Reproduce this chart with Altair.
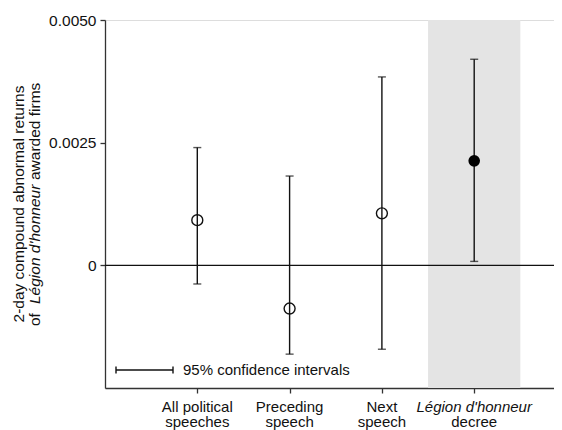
import altair as alt
import pandas as pd

# ---- data ----
label_line1 = ["All political", "Preceding", "Next", "Légion d'honneur"]
label_line2 = ["speeches", "speech", "speech", "decree"]
positions = [1, 2, 3, 4]
estimates = [0.00092, -0.00088, 0.00106, 0.00213]
ci_low = [-0.00038, -0.00181, -0.00171, 0.00008]
ci_high = [0.00240, 0.00182, 0.00384, 0.00420]
highlighted = [False, False, False, True]
y_ticks = [0.0, 0.0025, 0.0050]
y_domain = [-0.0025, 0.0050]

df = pd.DataFrame({
    "pos": positions, "l1": label_line1, "l2": label_line2,
    "est": estimates, "lo": ci_low, "hi": ci_high, "hl": highlighted,
})
shade = pd.DataFrame({
    "x0": [p - 0.5 for p, h in zip(positions, highlighted) if h],
    "x1": [p + 0.5 for p, h in zip(positions, highlighted) if h],
    "y0": [y_domain[0]], "y1": [y_domain[1]],
})
one = pd.DataFrame({"k": [0]})

W, H = 449, 368
FONT = "Liberation Sans"
INK = "#111111"

xs = alt.Scale(domain=[0, W / 92.3], nice=False, zero=False)
ys = alt.Scale(domain=y_domain, nice=False, zero=False)

base = alt.Chart(df)
ann = alt.Chart(one)

xaxis = alt.Axis(values=positions, labels=False, title=None, grid=False,
                 tickSize=5, domainColor="#333", tickColor="#333",
                 domainWidth=1.3, tickWidth=1.3)
yaxis = alt.Axis(values=y_ticks, title=None, grid=False, tickSize=5,
                 labelExpr="datum.value == 0 ? '0' : format(datum.value, '.4f')",
                 labelFontSize=15.5, labelFont=FONT, labelColor=INK,
                 labelPadding=4, domainColor="#333", tickColor="#333",
                 domainWidth=1.3, tickWidth=1.3)

rect = alt.Chart(shade).mark_rect(color="#e4e4e4").encode(
    x=alt.X("x0:Q", scale=xs, axis=xaxis), x2="x1:Q",
    y=alt.Y("y0:Q", scale=ys, axis=yaxis), y2="y1:Q",
)

zero = ann.mark_rule(color=INK, strokeWidth=1.3).encode(
    y=alt.datum(0, scale=ys)
)

bars = base.mark_rule(color=INK, strokeWidth=1.4).encode(
    x=alt.X("pos:Q", scale=xs), y=alt.Y("lo:Q", scale=ys), y2="hi:Q"
)
cap_lo = base.mark_tick(color=INK, orient="horizontal", size=8, thickness=1.4).encode(
    x=alt.X("pos:Q", scale=xs), y=alt.Y("lo:Q", scale=ys)
)
cap_hi = base.mark_tick(color=INK, orient="horizontal", size=8, thickness=1.4).encode(
    x=alt.X("pos:Q", scale=xs), y=alt.Y("hi:Q", scale=ys)
)

open_pts = base.transform_filter("!datum.hl").mark_point(
    shape="circle", filled=False, stroke=INK, strokeWidth=1.4, size=120, opacity=1
).encode(x=alt.X("pos:Q", scale=xs), y=alt.Y("est:Q", scale=ys))

filled_pts = base.transform_filter("datum.hl").mark_point(
    shape="circle", filled=True, color="black", size=135, opacity=1
).encode(x=alt.X("pos:Q", scale=xs), y=alt.Y("est:Q", scale=ys))

LFS = 15
lab1 = base.transform_filter("!datum.hl").mark_text(
    font=FONT, fontSize=LFS, color=INK, baseline="alphabetic", align="center"
).encode(x=alt.X("pos:Q", scale=xs), y=alt.value(391.5), text="l1:N")
lab1i = base.transform_filter("datum.hl").mark_text(
    font=FONT, fontSize=LFS, color=INK, baseline="alphabetic", align="center",
    fontStyle="italic"
).encode(x=alt.X("pos:Q", scale=xs), y=alt.value(391.5), text="l1:N")
lab2 = base.mark_text(
    font=FONT, fontSize=LFS, color=INK, baseline="alphabetic", align="center"
).encode(x=alt.X("pos:Q", scale=xs), y=alt.value(406.5), text="l2:N")

# legend-like annotation for confidence intervals
leg_bar = ann.mark_rule(color=INK, strokeWidth=1.4).encode(
    x=alt.value(11), x2=alt.value(68), y=alt.value(350)
)
leg_c1 = ann.mark_rule(color=INK, strokeWidth=1.4).encode(
    x=alt.value(11), y=alt.value(346.5), y2=alt.value(353.5)
)
leg_c2 = ann.mark_rule(color=INK, strokeWidth=1.4).encode(
    x=alt.value(68), y=alt.value(346.5), y2=alt.value(353.5)
)
leg_txt = ann.mark_text(
    font=FONT, fontSize=15, color=INK, align="left", baseline="middle"
).encode(x=alt.value(78), y=alt.value(350), text=alt.value("95% confidence intervals"))

# y-axis title (two lines, partly italic)
TFS = 15.5
t1 = ann.mark_text(font=FONT, fontSize=TFS, color=INK, angle=270,
                   align="center", baseline="middle").encode(
    x=alt.value(-86.5), y=alt.value(184),
    text=alt.value("2-day compound abnormal returns"))
t2a = ann.mark_text(font=FONT, fontSize=TFS, color=INK, angle=270,
                    align="left", baseline="middle").encode(
    x=alt.value(-70.5), y=alt.value(306), text=alt.value("of"))
t2b = ann.mark_text(font=FONT, fontSize=TFS, color=INK, angle=270,
                    align="left", baseline="middle", fontStyle="italic").encode(
    x=alt.value(-70.5), y=alt.value(284), text=alt.value("Légion d'honneur"))
t2c = ann.mark_text(font=FONT, fontSize=TFS, color=INK, angle=270,
                    align="left", baseline="middle").encode(
    x=alt.value(-70.5), y=alt.value(160), text=alt.value("awarded firms"))

chart = alt.layer(
    rect, zero, bars, cap_lo, cap_hi, open_pts, filled_pts,
    lab1, lab1i, lab2, leg_bar, leg_c1, leg_c2, leg_txt, t1, t2a, t2b, t2c,
).properties(
    width=W, height=H,
    autosize=alt.AutoSizeParams(type="none"),
    padding={"left": 97, "top": 12, "right": 0, "bottom": 42},
).configure_view(stroke=None).configure(background="white")

chart.save("out.html", embed_options={"renderer": "svg", "actions": False})
